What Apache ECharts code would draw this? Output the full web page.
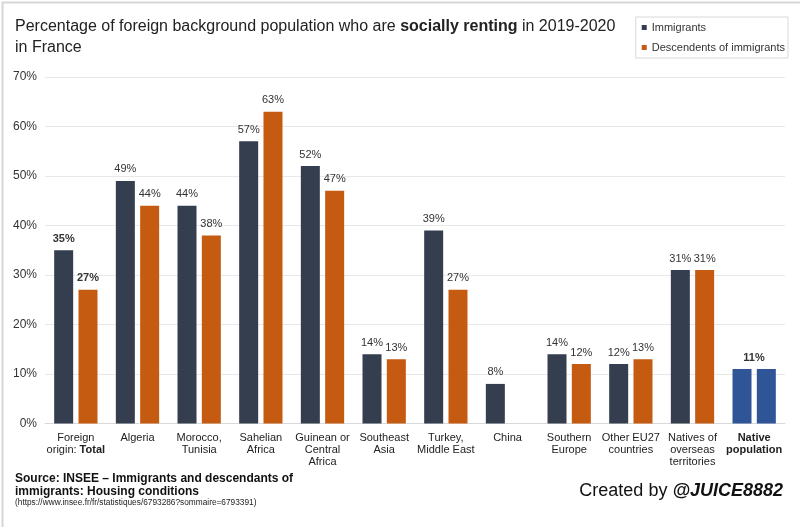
<!DOCTYPE html>
<html>
<head>
<meta charset="utf-8">
<script src="https://cdn.jsdelivr.net/npm/echarts@6/dist/echarts.min.js"></script>
<style>
html,body{margin:0;padding:0;background:#fff;}
#c{width:800px;height:527px;}
</style>
</head>
<body>
<div id="c"></div>
<script>
const categories = ['Foreign\norigin: {b|Total}','Algeria','Morocco,\nTunisia','Sahelian\nAfrica','Guinean or\nCentral\nAfrica','Southeast\nAsia','Turkey,\nMiddle East','China','Southern\nEurope','Other EU27\ncountries','Natives of\noverseas\nterritories','{b|Native}\n{b|population}'];
const immigrants = [35,49,44,57,52,14,39,8,14,12,31,11];
const descendants = [27,44,38,63,47,13,27,null,12,13,31,11];
const yTicks = [0,10,20,30,40,50,60,70];

const DARK = '#343e4f', ORANGE = '#c55a11', BLUE = '#2f5597';
const FONT = 'Liberation Sans, Arial, sans-serif';
const last = categories.length - 1;

function makeData(arr, isImm) {
  return arr.map((v, i) => {
    if (v === null) return null;
    const item = { value: v };
    if (i === last) {
      item.itemStyle = { color: BLUE };
      if (isImm) {
        item.label = { fontWeight: 'bold', offset: [12, 0] };
      } else {
        item.label = { show: false };
      }
    }
    if (i === 0) item.label = { fontWeight: 'bold' };
    return item;
  });
}

const chart = echarts.init(document.getElementById('c'), null, { renderer: 'canvas' });
const labelCommon = {
  show: true, position: 'top', distance: 6,
  formatter: p => p.value + '%', color: '#333', fontSize: 11, fontFamily: FONT
};
chart.setOption({
  animation: false,
  backgroundColor: '#fff',
  textStyle: { fontFamily: FONT },
  title: {
    left: 15, top: 16, padding: 0,
    text: 'Percentage of foreign background population who are {b|socially renting} in 2019-2020\nin France',
    textStyle: {
      fontSize: 16, fontWeight: 'normal', color: '#222', lineHeight: 21,
      rich: { b: { fontSize: 16, fontWeight: 'bold', color: '#222', lineHeight: 21 } }
    }
  },
  legend: {
    orient: 'vertical', right: 12, top: 17,
    itemWidth: 5, itemHeight: 5, itemGap: 9,
    padding: [5, 3, 5, 6],
    borderColor: '#d9d9d9', borderWidth: 1,
    icon: 'rect',
    textStyle: { fontSize: 11, color: '#333' },
    data: ['Immigrants', 'Descendents of immigrants']
  },
  grid: { left: 45, right: 15, top: 77, bottom: 103.5 },
  xAxis: {
    type: 'category', data: categories,
    axisTick: { show: false },
    axisLine: { lineStyle: { color: '#d9d9d9' } },
    axisLabel: {
      interval: 0, color: '#222', fontSize: 11, lineHeight: 12, margin: 8,
      rich: { b: { fontWeight: 'bold', fontSize: 11, color: '#222', lineHeight: 12 } }
    }
  },
  yAxis: {
    type: 'value', min: 0, max: 70, interval: 10,
    axisLabel: { formatter: v => yTicks.includes(v) ? v + '%' : '', color: '#333', fontSize: 12, margin: 8 },
    splitLine: { lineStyle: { color: '#e8e8e8' } },
    axisLine: { show: false }, axisTick: { show: false }
  },
  series: [
    {
      name: 'Immigrants', type: 'bar', barWidth: 19, barGap: '28%',
      itemStyle: { color: DARK },
      label: labelCommon,
      data: makeData(immigrants, true)
    },
    {
      name: 'Descendents of immigrants', type: 'bar', barWidth: 19, barGap: '28%',
      itemStyle: { color: ORANGE },
      label: labelCommon,
      data: makeData(descendants, false)
    }
  ],
  graphic: [
    { type: 'rect', left: 0, top: 0, shape: { width: 799, height: 526 }, style: { fill: 'none', stroke: '#d6d6d6', lineWidth: 2 }, silent: true },
    { type: 'text', left: 15, top: 472, style: { text: 'Source: INSEE – Immigrants and descendants of\nimmigrants: Housing conditions', fontSize: 12, fontWeight: 'bold', fill: '#111', lineHeight: 13, fontFamily: FONT } },
    { type: 'text', left: 15, top: 499, style: { text: '(https://www.insee.fr/fr/statistiques/6793286?sommaire=6793391)', fontSize: 8.3, fill: '#222', fontFamily: FONT } },
    { type: 'text', right: 17, top: 482, style: { rich: { n: { fontSize: 18, fill: '#111', fontFamily: FONT }, b: { fontSize: 18, fontWeight: 'bold', fontStyle: 'italic', fill: '#111', fontFamily: FONT } }, text: '{n|Created by }{b|@JUICE8882}' } }
  ]
});
</script>
</body>
</html>
